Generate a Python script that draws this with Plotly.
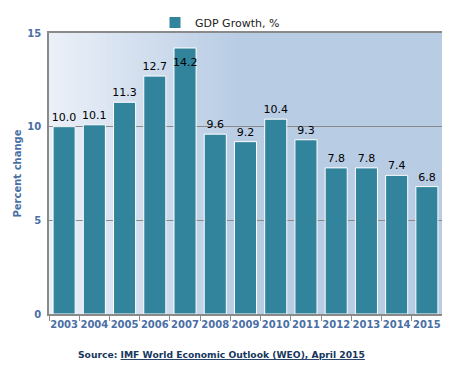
import plotly.graph_objects as go

years = ["2003", "2004", "2005", "2006", "2007", "2008", "2009", "2010",
         "2011", "2012", "2013", "2014", "2015"]
gdp_growth = [10.0, 10.1, 11.3, 12.7, 14.2, 9.6, 9.2, 10.4, 9.3, 7.8, 7.8, 7.4, 6.8]
y_ticks = [0, 5, 10, 15]
series_name = "GDP Growth, %"
y_title = "Percent change"
source_label = "Source:"
source_text = "IMF World Economic Outlook (WEO), April 2015"

BAR = "#31849B"
AXIS_BLUE = "#4A6FA5"
FONT = "DejaVu Sans"

labels = [f"{v:.1f}" for v in gdp_growth]
inside = [v > 14 for v in gdp_growth]

fig = go.Figure()
fig.add_trace(go.Bar(
    x=years, y=gdp_growth, name=series_name,
    marker=dict(color=BAR, line=dict(color="white", width=1)),
    text=["" if ins else lab for lab, ins in zip(labels, inside)],
    textposition="outside", textangle=0,
    constraintext="none",
    textfont=dict(family=FONT, size=11, color="black"),
    cliponaxis=False, showlegend=True,
))

annotations = []
for i, (v, lab, ins) in enumerate(zip(gdp_growth, labels, inside)):
    if ins:
        annotations.append(dict(x=i, y=v, xref="x", yref="y", text=lab,
                                showarrow=False, yanchor="top", yshift=-6,
                                font=dict(family=FONT, size=11, color="black")))

# gradient background via stripes
def lerp(a, b, t):
    return int(round(a + (b - a) * t))
c0 = (0xEB, 0xF0, 0xF8)
c1 = (0xB8, 0xCC, 0xE4)
shapes = []
n = 40
gend = 0.49
for i in range(n):
    t = i / (n - 1)
    col = "rgb(%d,%d,%d)" % tuple(lerp(c0[k], c1[k], t) for k in range(3))
    shapes.append(dict(type="rect", xref="paper", yref="paper", layer="below",
                       x0=gend * i / n, x1=gend * (i + 1) / n + 0.002, y0=0, y1=1,
                       fillcolor=col, line=dict(width=0)))
shapes.append(dict(type="rect", xref="paper", yref="paper", layer="below",
                   x0=gend, x1=1, y0=0, y1=1,
                   fillcolor="rgb(%d,%d,%d)" % c1, line=dict(width=0)))

# page body has an 8px margin, so the figure is 8px smaller and shifted
W, H = 442, 358
L, T, R, B = 41, 25, 8, 52
annotations.append(dict(
    xref="paper", yref="paper", x=(213 - L) / (W - L - R), y=(306 - 346) / (H - T - B),
    xanchor="center", yanchor="middle", showarrow=False,
    text=f"<b>{source_label} </b><b><u>{source_text}</u></b>",
    font=dict(family=FONT, size=9.2, color="#17375E"),
))

fig.update_layout(
    width=W, height=H,
    margin=dict(l=L, r=R, t=T, b=B, autoexpand=False),
    paper_bgcolor="white", plot_bgcolor="rgba(0,0,0,0)",
    font=dict(family=FONT),
    shapes=shapes,
    bargap=0.27,
    legend=dict(orientation="h", xref="container", yref="container",
                x=212 / W, xanchor="center", y=1.0, yanchor="top",
                font=dict(family=FONT, size=11, color="#222222"), bgcolor="rgba(0,0,0,0)"),
    xaxis=dict(type="category", showline=True, linecolor="#8a8a8a", linewidth=1.5, mirror=True,
               ticks="outside", tickson="boundaries", ticklen=5, tickcolor="#8a8a8a",
               tickangle=0, automargin=False,
               tickfont=dict(family=FONT, size=10, color=AXIS_BLUE, weight="bold"),
               showgrid=False),
    yaxis=dict(range=[0, 15], tickvals=y_ticks, showline=True, linecolor="#8a8a8a",
               linewidth=1.5, mirror=True, showgrid=True, gridcolor="#8a8a8a",
               gridwidth=1, zeroline=False, ticks="", ticklabelstandoff=4,
               automargin=False,
               tickfont=dict(family=FONT, size=10, color=AXIS_BLUE, weight="bold"),
               title=dict(text=y_title, standoff=4,
                          font=dict(family=FONT, size=10, color=AXIS_BLUE, weight="bold"))),
    annotations=annotations,
)

fig.write_html("out.html")
